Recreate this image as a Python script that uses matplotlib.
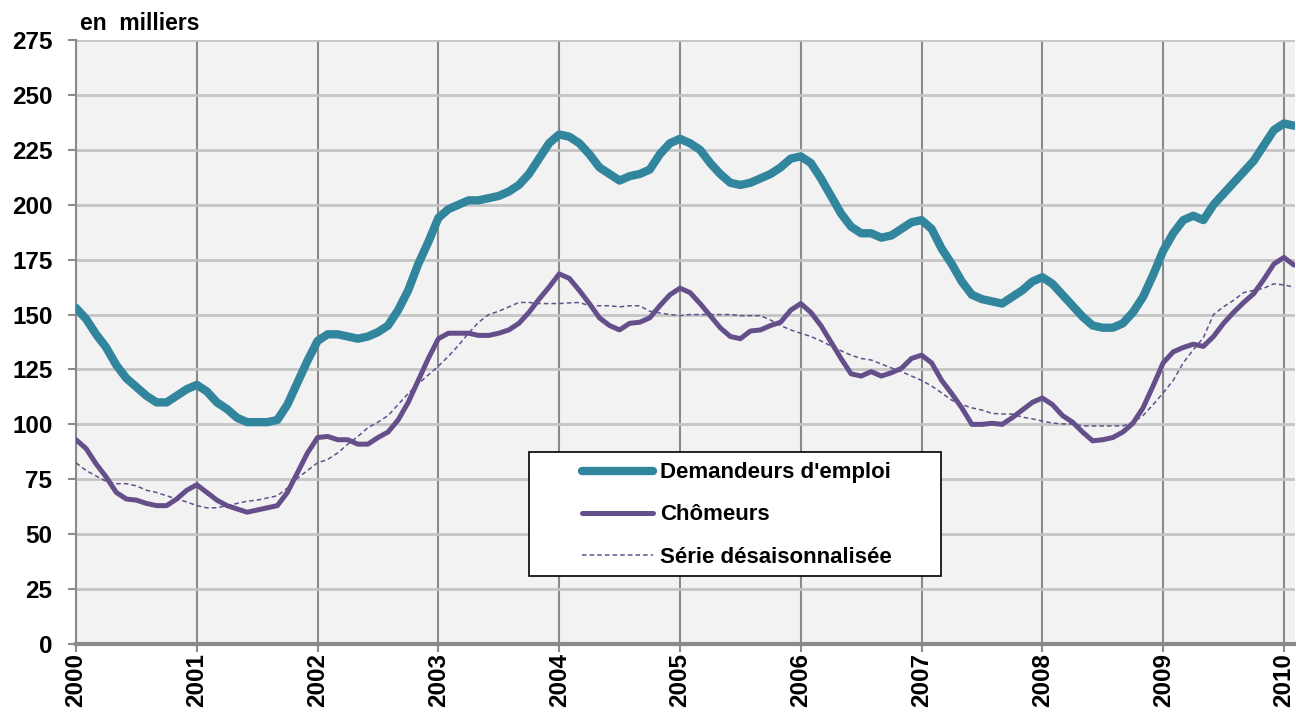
import numpy as np
import matplotlib.pyplot as plt
from matplotlib.patches import Rectangle

plt.rcParams['font.family'] = ['Liberation Sans', 'DejaVu Sans']

# monthly values, Jan 2000 -> Feb 2010 (thousands)
demandeurs = [
    153, 148, 141, 135, 127, 121, 117, 113, 110, 110, 113, 116,
    118, 115, 110, 107, 103, 101, 101, 101, 102, 109, 119, 129,
    138, 141, 141, 140, 139, 140, 142, 145, 152, 161, 173, 183,
    194, 198, 200, 202, 202, 203, 204, 206, 209, 214, 221, 228,
    232, 231, 228, 223, 217, 214, 211, 213, 214, 216, 223, 228,
    230, 228, 225, 219, 214, 210, 209, 210, 212, 214, 217, 221,
    222, 219, 212, 204, 196, 190, 187, 187, 185, 186, 189, 192,
    193, 189, 180, 173, 165, 159, 157, 156, 155, 158, 161, 165,
    167, 164, 159, 154, 149, 145, 144, 144, 146, 151, 158, 168,
    179, 187, 193, 195, 193, 200, 205, 210, 215, 220, 227, 234,
    237, 236,
]
chomeurs = [
    93, 89, 82, 76, 69, 66, 65.5, 64, 63, 63, 66, 70,
    72.5, 69, 65.5, 63, 61.5, 60, 61, 62, 63, 69, 78, 87,
    94, 94.5, 93, 93, 91, 91, 94, 96.5, 102, 110, 120, 130,
    139, 141.5, 141.5, 141.5, 140.5, 140.5, 141.5, 143, 146, 151, 157, 162.5,
    168.5, 166.5, 161, 155, 148.5, 145, 143, 146, 146.5, 148.5, 154, 159,
    162, 160, 155, 149.5, 144, 140, 139, 142.5, 143, 145, 146.5, 152,
    155, 151, 145, 137.5, 130, 123, 122, 124, 122, 123.5, 125.5, 130,
    131.5, 128, 120, 114, 107.5, 100, 100, 100.5, 100, 103, 106.5, 110,
    112, 109, 104, 101, 96.5, 92.5, 93, 94, 96.5, 100.5, 107.5, 117.5,
    128, 133, 135, 136.5, 135.5, 140, 146, 151, 155.5, 159.5, 166, 173,
    176, 172.5,
]
cvs = [
    82.5, 79, 76.5, 74, 73, 73, 72, 70, 69, 67.5, 66, 64.7,
    63, 62, 62, 63, 64, 65, 65.5, 66.5, 67.5, 71, 75.5, 79,
    82.5, 84, 87, 91, 94.5, 98.5, 101, 104, 109, 114, 118.5, 122.5,
    126.5, 131, 136, 141.5, 146.5, 150, 151.5, 153.5, 155.5, 155.5, 155, 155,
    155, 155.3, 155.5, 154, 154, 154, 153.5, 154, 154, 151.5, 150.7, 150,
    149.5, 150, 150, 150, 150, 150, 149.5, 149.5, 149.5, 147.5, 145, 143,
    141.5, 140, 138, 135.7, 133.5, 131.5, 130, 129.3, 127.5, 125.7, 124, 122,
    120, 117.5, 114.3, 111, 109, 107.5, 106.5, 105, 104.7, 104.7, 103.3, 102.5,
    101.5, 100.6, 100.2, 100.2, 99.3, 99.3, 99.3, 99.3, 99.3, 101, 104, 109,
    114.3, 120, 128, 134, 139.5, 150, 153.5, 156.5, 160, 161, 162, 164,
    163.5, 162.5,
]
years = [str(y) for y in range(2000, 2011)]

x = np.arange(len(demandeurs))

fig = plt.figure(figsize=(12.96, 7.22), dpi=100)
ax = fig.add_axes([76/1296, 1 - 644/722, 1219/1296, 604/722])
ax.set_facecolor('#F2F2F2')

ax.plot(x, demandeurs, color='#31859C', lw=6, solid_capstyle='round',
        solid_joinstyle='round', label="Demandeurs d'emploi", zorder=4)
ax.plot(x, chomeurs, color='#654F8A', lw=3.6, solid_capstyle='round',
        solid_joinstyle='round', label='Chômeurs', zorder=4)
ax.plot(x, cvs, color='#654F8A', lw=1.1, ls=(0, (3, 2)),
        label='Série désaisonnalisée', zorder=3)

ax.set_xlim(0, len(x) - 0.9)
ax.set_ylim(0, 275)
ax.set_yticks(np.arange(0, 276, 25))
ax.set_xticks(np.arange(0, len(x), 12))
ax.set_xticklabels(years, rotation=90, fontweight='bold', fontsize=17.5)
for lab in ax.get_yticklabels():
    lab.set_fontweight('bold')
    lab.set_fontsize(17.5)

ax.yaxis.grid(True, color='#C4C4C4', lw=2)
ax.xaxis.grid(True, color='#8A8A8A', lw=1.5)
ax.set_axisbelow(True)

for s in ['top', 'right']:
    ax.spines[s].set_visible(False)
ax.spines['left'].set_color('#8A8A8A')
ax.spines['left'].set_linewidth(1.5)
ax.spines['bottom'].set_color('#8A8A8A')
ax.spines['bottom'].set_linewidth(3)
ax.tick_params(axis='y', length=6, width=1.5, color='#8A8A8A', pad=11)
ax.tick_params(axis='x', length=5.5, width=1.5, color='#8A8A8A', pad=1)

fig.text(80/1296, 1 - 24/722, 'en  milliers', fontsize=16.5, fontweight='bold',
         va='center', ha='left')

# legend frame drawn separately (wide side padding as in the original)
box = Rectangle((453/1219, 68/604), 412/1219, 124/604, transform=ax.transAxes,
                facecolor='white', edgecolor='black', lw=1.2, zorder=6)
ax.add_patch(box)
leg = ax.legend(loc='center left', bbox_to_anchor=(506/1219, 129/604),
                frameon=False, prop={'weight': 'bold', 'size': 16},
                handlelength=3.2, handletextpad=0.3, labelspacing=0.95,
                borderpad=0, borderaxespad=0)
leg.set_zorder(7)

fig.savefig('out.png', dpi=100)
